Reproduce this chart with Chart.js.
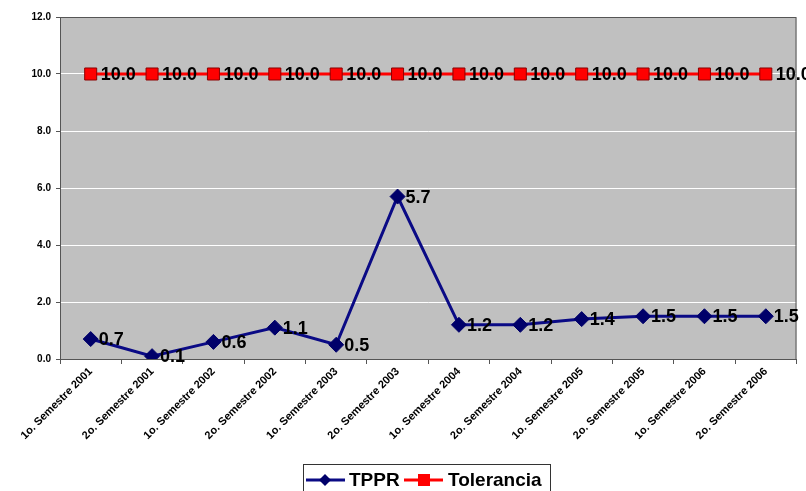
<!DOCTYPE html>
<html>
<head>
<meta charset="utf-8">
<script src="https://cdn.jsdelivr.net/npm/chart.js@4"></script>
<style>
  html, body { margin: 0; padding: 0; background: #ffffff; }
  #wrap { width: 806px; height: 491px; position: relative; }
</style>
</head>
<body>
<div id="wrap"><canvas id="c" width="806" height="491"></canvas></div>
<script>
const categories = [
  "1o. Semestre 2001", "2o. Semestre 2001",
  "1o. Semestre 2002", "2o. Semestre 2002",
  "1o. Semestre 2003", "2o. Semestre 2003",
  "1o. Semestre 2004", "2o. Semestre 2004",
  "1o. Semestre 2005", "2o. Semestre 2005",
  "1o. Semestre 2006", "2o. Semestre 2006"
];
const tpprValues = [0.7, 0.1, 0.6, 1.1, 0.5, 5.7, 1.2, 1.2, 1.4, 1.5, 1.5, 1.5];
const toleranciaValues = [10.0, 10.0, 10.0, 10.0, 10.0, 10.0, 10.0, 10.0, 10.0, 10.0, 10.0, 10.0];
const seriesNames = ["TPPR", "Tolerancia"];
const yTicks = [0, 2, 4, 6, 8, 10, 12];

const plotBg = {
  id: 'plotBg',
  beforeDraw(chart) {
    const a = chart.chartArea, ctx = chart.ctx;
    ctx.save();
    ctx.fillStyle = '#C0C0C0';
    ctx.fillRect(a.left, a.top, a.right - a.left, a.bottom - a.top);
    ctx.restore();
  },
  beforeDatasetsDraw(chart) {
    const a = chart.chartArea, ctx = chart.ctx;
    ctx.save();
    ctx.strokeStyle = '#555555';
    ctx.lineWidth = 1;
    ctx.strokeRect(a.left + 0.5, a.top + 0.5, a.right - a.left - 1, a.bottom - a.top);
    ctx.restore();
  }
};

const dataLabels = {
  id: 'dataLabels',
  afterDatasetsDraw(chart) {
    const ctx = chart.ctx;
    ctx.save();
    ctx.font = 'bold 18px "Liberation Sans", Arial, sans-serif';
    ctx.fillStyle = '#000000';
    ctx.textBaseline = 'middle';
    ctx.textAlign = 'left';
    chart.data.datasets.forEach((ds, i) => {
      const meta = chart.getDatasetMeta(i);
      const off = ds.labelOffset || 8;
      meta.data.forEach((pt, j) => {
        ctx.fillText(Number(ds.data[j]).toFixed(1), pt.x + off, pt.y + 1);
      });
    });
    ctx.restore();
  }
};

const customLegend = {
  id: 'customLegend',
  afterDraw(chart) {
    const ctx = chart.ctx;
    const ds = chart.data.datasets;
    ctx.save();
    ctx.fillStyle = '#ffffff';
    ctx.strokeStyle = '#333333';
    ctx.lineWidth = 1;
    ctx.fillRect(303.5, 464.5, 247, 32);
    ctx.strokeRect(303.5, 464.5, 247, 32);
    const y = 480;
    ctx.font = 'bold 19px "Liberation Sans", Arial, sans-serif';
    ctx.textBaseline = 'middle';
    ctx.textAlign = 'left';
    // TPPR
    ctx.strokeStyle = ds[0].borderColor; ctx.lineWidth = 3;
    ctx.beginPath(); ctx.moveTo(306, y); ctx.lineTo(345, y); ctx.stroke();
    ctx.fillStyle = ds[0].pointBackgroundColor;
    ctx.beginPath(); ctx.moveTo(325, y - 6); ctx.lineTo(331, y); ctx.lineTo(325, y + 6); ctx.lineTo(319, y); ctx.closePath(); ctx.fill();
    ctx.fillStyle = '#000000';
    ctx.fillText(ds[0].label, 349, y + 1);
    // Tolerancia
    ctx.strokeStyle = ds[1].borderColor; ctx.lineWidth = 3;
    ctx.beginPath(); ctx.moveTo(404, y); ctx.lineTo(443, y); ctx.stroke();
    ctx.fillStyle = ds[1].pointBackgroundColor;
    ctx.fillRect(418, y - 6, 12, 12);
    ctx.fillStyle = '#000000';
    ctx.fillText(ds[1].label, 448, y + 1);
    ctx.restore();
  }
};

new Chart(document.getElementById('c'), {
  type: 'line',
  data: {
    labels: categories,
    datasets: [
      {
        label: seriesNames[0],
        data: tpprValues,
        borderColor: '#0A0A85',
        borderWidth: 3,
        pointStyle: 'rectRot',
        pointRadius: 7.5,
        pointHoverRadius: 7.5,
        pointBackgroundColor: '#00006A',
        pointBorderColor: '#00006A',
        pointBorderWidth: 1,
        tension: 0,
        fill: false,
        labelOffset: 8
      },
      {
        label: seriesNames[1],
        data: toleranciaValues,
        borderColor: '#FF0000',
        borderWidth: 3,
        pointStyle: 'rect',
        pointRadius: 8.5,
        pointHoverRadius: 8.5,
        pointBackgroundColor: '#FF0000',
        pointBorderColor: '#8B0000',
        pointBorderWidth: 1,
        tension: 0,
        fill: false,
        labelOffset: 10
      }
    ]
  },
  options: {
    responsive: false,
    animation: false,
    layout: { padding: { left: 0, right: 9, top: 17, bottom: 32 } },
    plugins: {
      legend: { display: false },
      tooltip: { enabled: false }
    },
    scales: {
      x: {
        offset: true,
        grid: {
          offset: true,
          drawOnChartArea: false,
          tickLength: 5,
          tickColor: '#555555'
        },
        border: { color: '#555555', width: 1 },
        ticks: {
          autoSkip: false,
          minRotation: 45,
          maxRotation: 45,
          padding: 1,
          color: '#000000',
          font: { family: '"Liberation Sans", Arial, sans-serif', size: 11, weight: 'bold' }
        },
        afterFit(scale) { scale.height = 100; }
      },
      y: {
        min: 0,
        max: 12,
        afterBuildTicks(scale) { scale.ticks = yTicks.map(v => ({ value: v })); },
        grid: {
          color: '#FFFFFF',
          lineWidth: 1,
          tickLength: 4,
          tickColor: '#555555'
        },
        border: { color: '#555555', width: 1 },
        ticks: {
          padding: 5,
          color: '#000000',
          font: { family: '"Liberation Sans", Arial, sans-serif', size: 10, weight: 'bold' },
          callback: (v) => Number(v).toFixed(1)
        },
        afterFit(scale) { scale.width = 60; }
      }
    }
  },
  plugins: [plotBg, dataLabels, customLegend]
});
</script>
</body>
</html>
